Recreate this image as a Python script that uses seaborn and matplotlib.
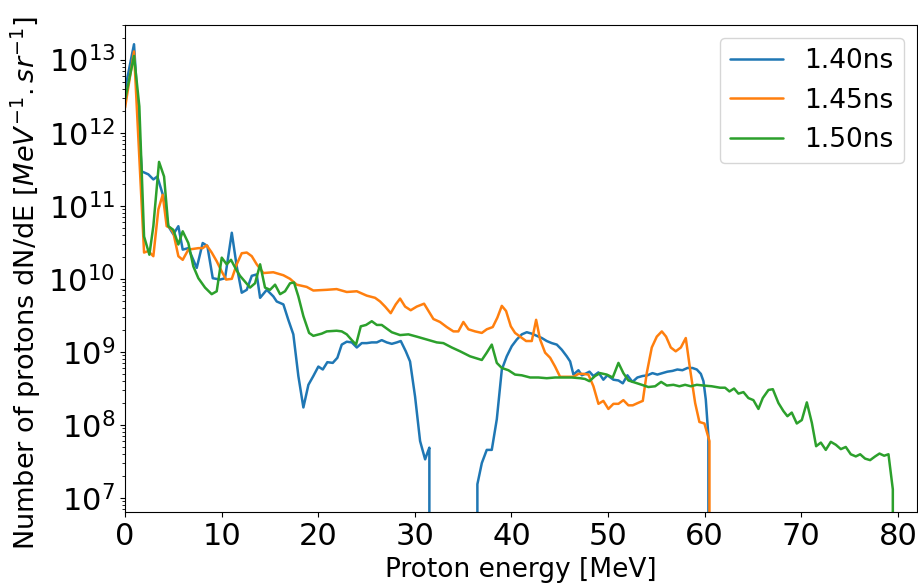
import numpy as np
import pandas as pd
import seaborn as sns
import matplotlib
matplotlib.use('Agg')
import matplotlib.pyplot as plt
from matplotlib.ticker import MultipleLocator

# proton spectra (energy in MeV, dN/dE per MeV per sr)
labels = ['1.40ns', '1.45ns', '1.50ns']

e_140 = [0.0, 0.93, 1.73, 2.41, 2.93, 3.34, 3.96, 4.48, 5.0, 5.52,
         5.97, 6.55, 7.42, 8.04, 8.52, 9.08, 9.83, 10.35, 11.05, 11.56,
         12.08, 12.6, 13.12, 13.63, 13.98, 14.67, 15.35, 15.7, 16.39, 16.9,
         17.42, 17.94, 18.46, 18.98, 19.49, 20.01, 20.47, 20.94, 21.5, 21.98,
         22.43, 22.95, 23.47, 23.99, 24.5, 25.02, 25.54, 26.06, 26.57, 27.09,
         27.61, 28.13, 28.54, 29.06, 29.5, 30.02, 30.54, 31.06, 31.3, 31.5,
         32.0, 36.0, 36.47, 36.93, 37.44, 37.96, 38.48, 39.0, 39.51, 40.03,
         40.55, 41.07, 41.58, 42.1, 42.62, 43.14, 43.65, 44.17, 44.69, 45.21,
         45.72, 46.07, 46.41, 46.93, 47.28, 47.62, 48.07, 48.48, 49.0, 49.51,
         49.93, 50.55, 51.07, 51.52, 52.0, 52.52, 53.03, 53.55, 54.07, 54.59,
         55.1, 55.62, 56.14, 56.66, 57.17, 57.69, 58.21, 58.73, 59.18, 59.6,
         59.87, 60.11, 60.38, 60.9]
n_140 = [3.89e12, 1.62e13, 2.95e11, 2.69e11, 2.29e11, 2.51e11, 1.35e11, 5.25e10, 4.07e10, 5.25e10,
         2.51e10, 2.63e10, 1.41e10, 3.09e10, 2.82e10, 1.02e10, 9.77e9, 1.02e10, 4.27e10, 1.48e10,
         6.46e9, 7.08e9, 1.10e10, 1.15e10, 5.50e9, 7.08e9, 5.75e9, 4.90e9, 4.47e9, 2.75e9,
         1.74e9, 4.68e8, 1.74e8, 3.55e8, 4.68e8, 6.31e8, 5.75e8, 7.24e8, 7.08e8, 8.32e8,
         1.26e9, 1.38e9, 1.35e9, 1.15e9, 1.32e9, 1.32e9, 1.35e9, 1.35e9, 1.45e9, 1.35e9,
         1.29e9, 1.35e9, 1.41e9, 1.02e9, 7.41e8, 2.45e8, 6.03e7, 3.39e7, 4.17e7, 4.90e7,
         0, 0, 1.55e7, 3.02e7, 4.57e7, 4.57e7, 1.20e8, 5.75e8, 8.71e8, 1.20e9,
         1.48e9, 1.74e9, 1.86e9, 1.78e9, 1.66e9, 1.55e9, 1.41e9, 1.32e9, 1.26e9, 1.07e9,
         8.71e8, 7.41e8, 4.90e8, 5.62e8, 4.79e8, 5.01e8, 5.37e8, 4.68e8, 5.25e8, 4.17e8,
         4.79e8, 4.17e8, 4.07e8, 3.72e8, 4.79e8, 3.89e8, 4.47e8, 4.68e8, 4.79e8, 5.13e8,
         4.90e8, 5.13e8, 5.37e8, 5.50e8, 5.75e8, 5.62e8, 6.03e8, 6.03e8, 5.75e8, 5.01e8,
         3.98e8, 2.24e8, 7.08e7, 0]

e_145 = [0.0, 0.93, 1.97, 2.41, 2.93, 3.45, 3.9, 4.31, 4.66, 5.0,
         5.52, 5.97, 6.55, 7.07, 7.59, 8.04, 8.45, 8.97, 9.49, 10.01,
         10.46, 11.05, 11.56, 12.08, 12.6, 13.12, 13.63, 14.32, 15.35, 16.39,
         17.08, 17.77, 18.8, 19.49, 20.88, 21.9, 22.95, 23.99, 25.02, 25.88,
         26.4, 26.92, 27.5, 28.02, 28.47, 28.99, 29.57, 30.19, 30.95, 31.92,
         32.6, 33.3, 33.99, 34.5, 35.02, 35.54, 36.23, 36.93, 37.44, 38.06,
         38.54, 39.0, 39.44, 39.93, 40.37, 40.89, 41.51, 42.1, 42.55, 42.96,
         43.48, 44.0, 44.51, 45.03, 45.72, 46.41, 46.93, 47.44, 47.96, 48.48,
         49.0, 49.51, 50.03, 50.55, 51.07, 51.58, 52.1, 52.55, 53.07, 53.59,
         54.0, 54.52, 55.04, 55.56, 56.0, 56.49, 57.0, 57.53, 58.04, 58.49,
         59.01, 59.45, 59.97, 60.49, 61.0]
n_145 = [2.19e12, 1.29e13, 2.29e10, 2.40e10, 2.04e10, 8.91e10, 1.41e11, 5.25e10, 5.01e10, 4.27e10,
         2.04e10, 1.82e10, 2.51e10, 2.57e10, 2.63e10, 2.63e10, 2.88e10, 2.29e10, 1.74e10, 1.26e10,
         9.77e9, 1.0e10, 1.58e10, 2.24e10, 2.29e10, 2.04e10, 1.58e10, 1.20e10, 1.23e10, 1.12e10,
         1.0e10, 8.32e9, 7.76e9, 6.92e9, 7.08e9, 7.24e9, 6.61e9, 6.76e9, 5.89e9, 5.50e9,
         4.90e9, 4.17e9, 3.39e9, 4.47e9, 5.37e9, 4.17e9, 3.72e9, 4.17e9, 4.57e9, 2.82e9,
         2.57e9, 2.19e9, 1.91e9, 1.91e9, 2.57e9, 2.04e9, 1.91e9, 1.82e9, 2.04e9, 2.19e9,
         2.95e9, 4.27e9, 3.63e9, 2.24e9, 1.82e9, 1.62e9, 1.41e9, 1.41e9, 2.75e9, 1.48e9,
         9.77e8, 8.32e8, 6.31e8, 4.57e8, 4.57e8, 4.57e8, 5.01e8, 5.01e8, 4.90e8, 3.39e8,
         1.95e8, 2.14e8, 1.66e8, 1.95e8, 1.95e8, 2.19e8, 1.86e8, 1.86e8, 2.0e8, 2.14e8,
         5.13e8, 1.15e9, 1.62e9, 1.91e9, 1.62e9, 1.15e9, 1.02e9, 1.15e9, 1.55e9, 5.75e8,
         2.0e8, 1.10e8, 1.05e8, 6.03e7, 0]

e_150 = [0.0, 0.93, 1.48, 1.97, 2.52, 2.93, 3.52, 4.04, 4.48, 5.0,
         5.52, 5.97, 6.55, 7.07, 7.59, 8.28, 8.97, 9.49, 10.01, 10.52,
         10.97, 11.49, 11.9, 12.94, 13.46, 13.98, 14.49, 15.01, 15.53, 16.05,
         16.56, 17.08, 17.49, 17.94, 18.46, 19.05, 19.49, 20.36, 20.88, 21.9,
         22.43, 22.95, 23.47, 23.91, 24.4, 24.95, 25.54, 26.06, 26.57, 27.09,
         27.61, 28.47, 29.33, 30.19, 31.23, 32.27, 32.95, 33.82, 34.68, 35.71,
         36.93, 37.44, 37.96, 38.48, 39.0, 39.68, 40.37, 41.06, 41.93, 42.79,
         43.65, 44.51, 45.37, 46.24, 47.1, 47.6, 48.07, 48.65, 49.17, 49.86,
         50.48, 51.07, 51.58, 52.1, 52.8, 53.49, 54.17, 54.87, 55.49, 56.08,
         56.76, 57.38, 57.97, 58.56, 59.18, 59.87, 60.73, 61.59, 62.11, 62.56,
         63.04, 63.49, 64.01, 64.52, 65.04, 65.56, 66.01, 66.6, 67.05, 67.63,
         68.15, 68.56, 69.01, 69.53, 70.05, 70.57, 71.09, 71.53, 72.02, 72.53,
         73.05, 73.57, 74.09, 74.6, 75.12, 75.64, 76.09, 76.6, 77.12, 77.64,
         78.09, 78.57, 79.02, 79.47, 79.9]
n_150 = [2.82e12, 1.12e13, 2.29e12, 3.80e10, 2.14e10, 5.25e10, 3.98e11, 2.51e11, 5.25e10, 4.68e10,
         2.95e10, 4.47e10, 3.09e10, 1.48e10, 1.02e10, 7.59e9, 6.17e9, 6.76e9, 1.95e10, 1.58e10,
         1.82e10, 1.35e10, 1.10e10, 7.59e9, 8.71e9, 1.58e10, 7.59e9, 7.08e9, 8.32e9, 6.17e9,
         6.76e9, 8.71e9, 8.91e9, 5.75e9, 3.09e9, 1.82e9, 1.66e9, 1.78e9, 1.91e9, 1.95e9,
         1.91e9, 1.74e9, 1.45e9, 1.26e9, 2.24e9, 2.34e9, 2.63e9, 2.34e9, 2.34e9, 2.09e9,
         1.86e9, 1.70e9, 1.74e9, 1.62e9, 1.48e9, 1.35e9, 1.32e9, 1.15e9, 1.02e9, 8.71e8,
         7.76e8, 9.77e8, 1.26e9, 7.08e8, 6.03e8, 5.62e8, 4.90e8, 4.79e8, 4.47e8, 4.47e8,
         4.37e8, 4.47e8, 4.47e8, 4.47e8, 4.37e8, 4.27e8, 3.98e8, 4.68e8, 5.13e8, 4.90e8,
         4.47e8, 7.08e8, 5.13e8, 4.07e8, 3.80e8, 3.55e8, 3.31e8, 3.39e8, 3.89e8, 3.47e8,
         3.55e8, 3.39e8, 3.55e8, 3.39e8, 3.55e8, 3.47e8, 3.39e8, 3.24e8, 3.24e8, 2.88e8,
         3.16e8, 2.69e8, 2.82e8, 2.34e8, 2.19e8, 1.66e8, 2.34e8, 3.02e8, 3.09e8, 2.0e8,
         1.55e8, 1.32e8, 1.48e8, 1.05e8, 1.17e8, 2.04e8, 1.07e8, 5.13e7, 5.75e7, 4.57e7,
         5.89e7, 5.37e7, 4.68e7, 5.01e7, 3.98e7, 3.72e7, 3.98e7, 3.47e7, 3.31e7, 3.72e7,
         4.07e7, 3.80e7, 3.98e7, 1.32e7, 0]

df = pd.concat([
    pd.DataFrame({'energy': e_140, 'dNdE': n_140, 'time': labels[0]}),
    pd.DataFrame({'energy': e_145, 'dNdE': n_145, 'time': labels[1]}),
    pd.DataFrame({'energy': e_150, 'dNdE': n_150, 'time': labels[2]}),
], ignore_index=True)

sns.set_theme(style='ticks', rc={
    'axes.edgecolor': 'black', 'axes.linewidth': 0.8,
    'xtick.color': 'black', 'ytick.color': 'black', 'text.color': 'black',
    'axes.labelcolor': 'black',
    'xtick.major.size': 3.5, 'ytick.major.size': 3.5,
    'ytick.minor.size': 2, 'xtick.major.width': 0.8, 'ytick.major.width': 0.8,
    'ytick.minor.width': 0.6,
})
plt.rcParams['font.family'] = ['DejaVu Sans']

fig = plt.figure(figsize=(9.18, 5.85), dpi=100)
ax = fig.add_axes([0.1362, 0.1243, 0.863, 0.8335])

sns.lineplot(data=df, x='energy', y='dNdE', hue='time', palette='tab10',
             estimator=None, sort=False, linewidth=1.8, ax=ax)
ax.set_yscale('log')
ax.set_xlim(0, 82)
ax.set_ylim(6.4e6, 3.0e13)
ax.xaxis.set_major_locator(MultipleLocator(10))

ax.set_xlabel('Proton energy [MeV]', fontsize=19)
ax.set_ylabel(r'Number of protons dN/dE [$MeV^{-1}.sr^{-1}$]', fontsize=19.5)
ax.yaxis.label.set_y(0.47)
ax.tick_params(axis='both', which='major', labelsize=22)

leg = ax.get_legend()
handles = leg.legend_handles
names = [t.get_text() for t in leg.get_texts()]
for h in handles:
    h.set_linewidth(1.8)
ax.legend(handles, names, loc='upper right', fontsize=19, frameon=True)

fig.savefig('out.png', dpi=100)
